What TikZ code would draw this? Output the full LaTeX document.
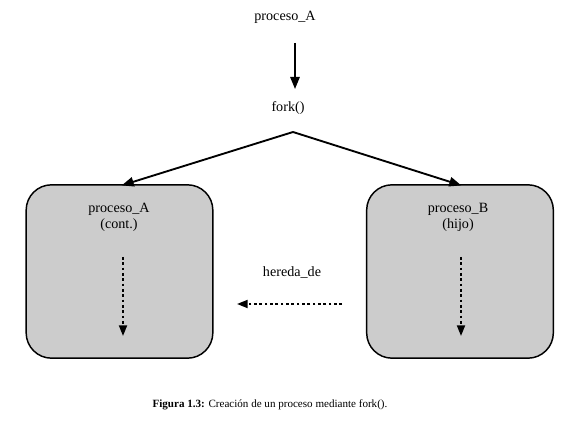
\documentclass[tikz,border=0pt]{standalone}
\usepackage{fontspec}
\setmainfont{Liberation Serif}
\usetikzlibrary{arrows.meta}
\begin{document}
\begin{tikzpicture}[x=0.75pt, y=-0.75pt,
    every node/.style = {align=center, font=\fontsize{10.6}{12}\selectfont},
    proc/.style = {draw, line width=1.1pt, rounded corners=19pt, fill=black!20,
      minimum width=140pt, minimum height=130pt},
    arr/.style = {line width=1.4pt, -{Triangle[length=9pt, width=7pt]}},
    darr/.style = {line width=1.4pt, dash pattern=on 2pt off 2pt,
      -{Triangle[length=8pt, width=6pt]}}]
    \useasboundingbox (0,0) rectangle (579,431);
    \node (procA) at (285,17) {proceso\_A};
    \node (fork) at (288,108) {fork()};
    \coordinate (forkpt) at (293,132);
    \node[proc] (boxA) at (119.5,271.5) {};
    \node[proc] (boxB) at (460,271.5) {};
    \node (txtA) at (119,217) {proceso\_A\\(cont.)};
    \node (txtB) at (458,217) {proceso\_B\\(hijo)};
    \node (hereda) at (292,273) {hereda\_de};
    \coordinate (hA) at (342,304);
    \coordinate (hB) at (237,304);
    \draw[arr] (295,43) -- (295,89);
    \draw[arr, shorten >=-1pt] (forkpt) -- (123,185);
    \draw[arr, shorten >=-1pt] (forkpt) -- (460,185);
    \draw[darr] (123,257) -- (123,336);
    \draw[darr] (461,257) -- (461,336);
    \draw[darr] (hA) -- (hB);
    \node[font=\fontsize{8.3}{10}\selectfont] (cap) at (270,405)
      {\textbf{Figura 1.3:} Creación de un proceso mediante fork().};
  \end{tikzpicture}
\end{document}
